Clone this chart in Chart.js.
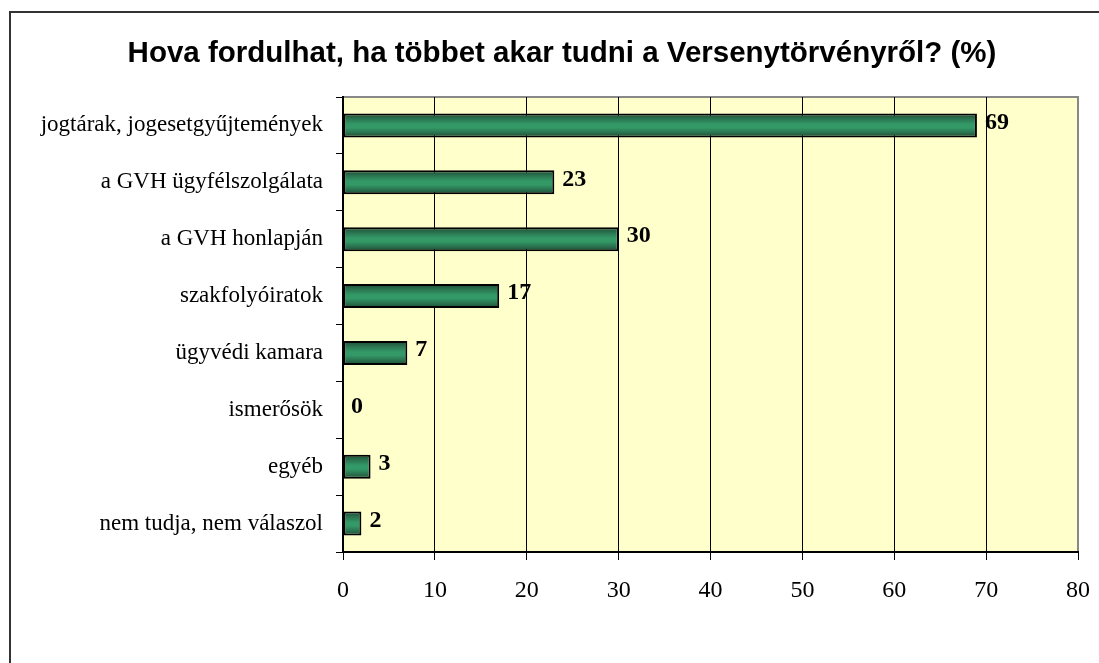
<!DOCTYPE html>
<html>
<head>
<meta charset="utf-8">
<script src="https://cdn.jsdelivr.net/npm/chart.js@4"></script>
<style>
    body { margin: 0; background: #fff; overflow: hidden; }
    #wrap { width: 1099px; height: 663px; position: relative; }
</style>
</head>
<body>
<div id="wrap"><canvas id="chart"></canvas></div>
<script>
const cim = "Hova fordulhat, ha többet akar tudni a Versenytörvényről? (%)";
const cimkek = [
    "jogtárak, jogesetgyűjtemények",
    "a GVH ügyfélszolgálata",
    "a GVH honlapján",
    "szakfolyóiratok",
    "ügyvédi kamara",
    "ismerősök",
    "egyéb",
    "nem tudja, nem válaszol"
];
const ertekek = [69, 23, 30, 17, 7, 0, 3, 2];
const xMin = 0;
const xMax = 80;
const xLepes = 10;

const BAR_PCT = 0.42;

// background of plot area + outer frame + title
const hatterPlugin = {
    id: "hatter",
    beforeDraw(chart) {
        const { ctx, chartArea: a } = chart;
        ctx.save();
        ctx.strokeStyle = "#333";
        ctx.lineWidth = 2;
        ctx.beginPath();
        ctx.moveTo(10, chart.height + 5);
        ctx.lineTo(10, 12);
        ctx.lineTo(chart.width + 5, 12);
        ctx.stroke();

        ctx.fillStyle = "#FFFFCC";
        ctx.fillRect(a.left, a.top, a.right - a.left, a.bottom - a.top);
        ctx.strokeStyle = "#888";
        ctx.lineWidth = 2;
        ctx.strokeRect(a.left, a.top, a.right - a.left, a.bottom - a.top);

        // title, centred a bit right of the canvas middle like the original
        ctx.font = "bold 29.5px 'Liberation Sans', Arial, sans-serif";
        ctx.fillStyle = "#000";
        ctx.textAlign = "center";
        ctx.textBaseline = "middle";
        ctx.fillText(cim, 562, 54);
        ctx.restore();
    }
};

// value labels next to the bars
const cimkePlugin = {
    id: "ertekCimke",
    afterDatasetsDraw(chart) {
        const { ctx } = chart;
        const meta = chart.getDatasetMeta(0);
        ctx.save();
        ctx.font = "bold 24px 'Liberation Serif', 'Times New Roman', serif";
        ctx.fillStyle = "#000";
        ctx.textAlign = "left";
        ctx.textBaseline = "middle";
        meta.data.forEach((el, i) => {
            ctx.fillText(String(ertekek[i]), el.x + 8, el.y - 3);
        });
        ctx.restore();
    }
};

function zoldSzin(c) {
    const chart = c.chart;
    const y = chart.scales.y;
    if (!y || !chart.chartArea) return "#339966";
    const py = y.getPixelForValue(c.dataIndex);
    const h = (y.height / cimkek.length) * BAR_PCT / 2;
    const g = chart.ctx.createLinearGradient(0, py - h, 0, py + h);
    g.addColorStop(0, "#1d4a33");
    g.addColorStop(0.22, "#2a7350");
    g.addColorStop(0.45, "#339966");
    g.addColorStop(0.6, "#339966");
    g.addColorStop(0.8, "#2a7350");
    g.addColorStop(1, "#1d4a33");
    return g;
}

new Chart(document.getElementById("chart"), {
    type: "bar",
    data: {
        labels: cimkek,
        datasets: [
            {
                data: ertekek,
                backgroundColor: zoldSzin,
                borderColor: "#000",
                borderWidth: 2,
                borderSkipped: false,
                barPercentage: BAR_PCT,
                categoryPercentage: 1
            }
        ]
    },
    options: {
        indexAxis: "y",
        responsive: true,
        maintainAspectRatio: false,
        animation: false,
        layout: {
            padding: { left: 10, right: 21, top: 97, bottom: 0 }
        },
        plugins: {
            legend: { display: false },
            tooltip: { enabled: false },
            title: { display: false }
        },
        scales: {
            x: {
                min: xMin,
                max: xMax,
                ticks: {
                    stepSize: xLepes,
                    color: "#000",
                    padding: 16,
                    font: { family: "'Liberation Serif', 'Times New Roman', serif", size: 24 }
                },
                grid: {
                    color: (c) => (c.tick && c.tick.value === xMax ? "rgba(0,0,0,0)" : "#000"),
                    lineWidth: 1,
                    tickColor: "#000",
                    tickLength: 8
                },
                border: { color: "#000", width: 2 },
                afterFit(scale) {
                    scale.height = 111;
                    scale.paddingLeft = 0;
                    scale.paddingRight = 0;
                }
            },
            y: {
                ticks: {
                    color: "#000",
                    padding: 13,
                    font: { family: "'Liberation Serif', 'Times New Roman', serif", size: 23 }
                },
                grid: {
                    offset: true,
                    drawOnChartArea: false,
                    tickColor: "#000",
                    tickLength: 7
                },
                border: { color: "#000", width: 2 },
                afterFit(scale) {
                    scale.width = 333;
                    scale.paddingTop = 0;
                    scale.paddingBottom = 0;
                }
            }
        }
    },
    plugins: [hatterPlugin, cimkePlugin]
});
</script>
</body>
</html>
